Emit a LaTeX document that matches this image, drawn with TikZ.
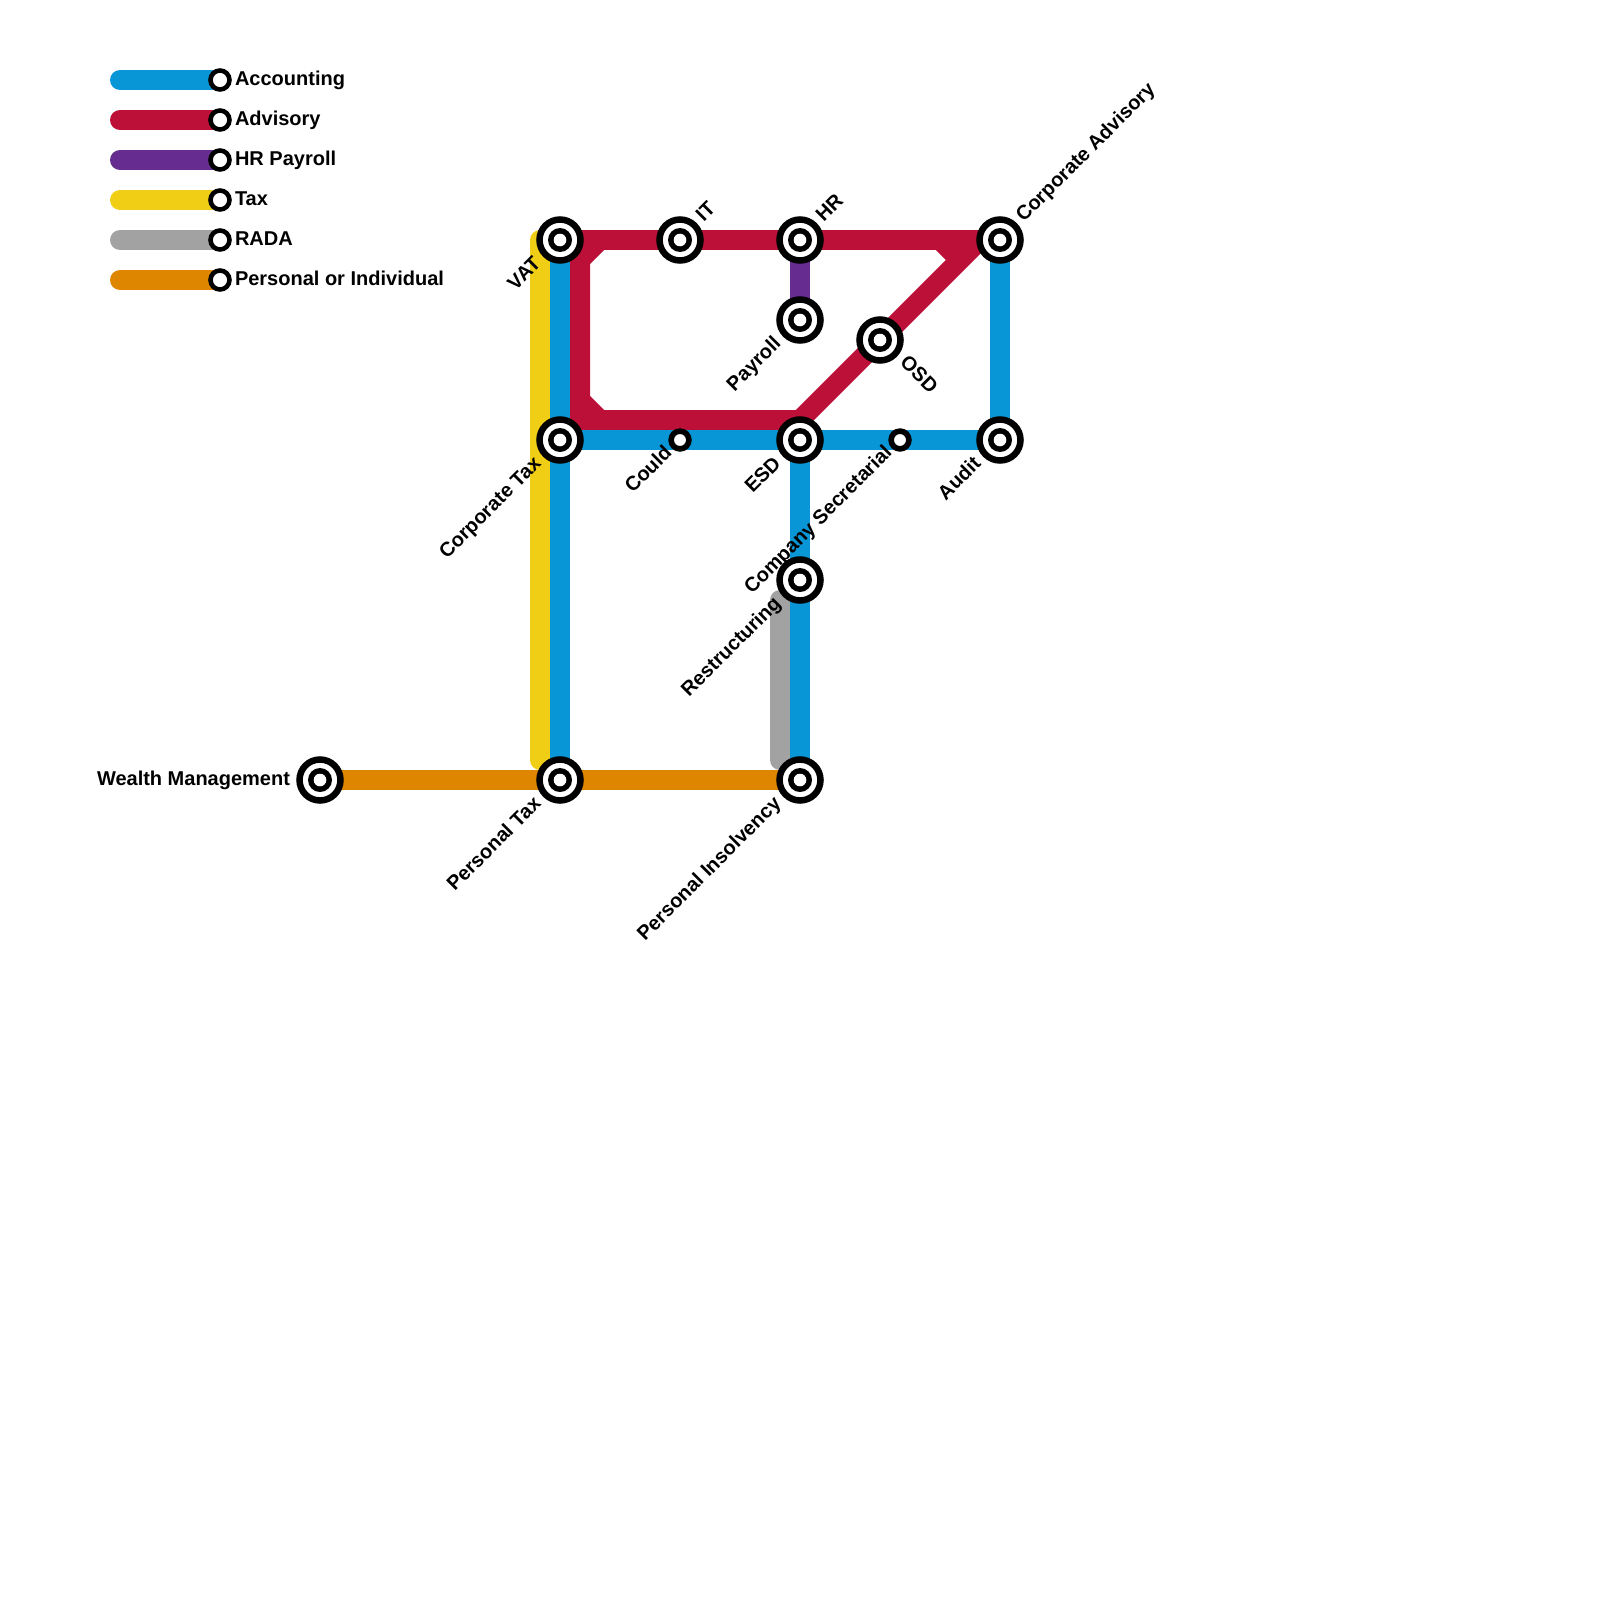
\documentclass[tikz,border=0pt]{standalone}
\usepackage{fontspec}
\setmainfont{Liberation Sans}
\definecolor{lblue}{HTML}{0896D7}
\definecolor{lred}{HTML}{BD1038}
\definecolor{lpurple}{HTML}{662C90}
\definecolor{lyellow}{HTML}{F0CE15}
\definecolor{lgray}{HTML}{A2A2A2}
\definecolor{lorange}{HTML}{DF8600}
\tikzset{
  track/.style={line width=20pt,line join=round},
  legtrack/.style={line width=20pt,line cap=round},
  bigst/.style={circle,draw=black,fill=white,line width=6.5pt,minimum size=41pt,inner sep=0pt,outer sep=0pt,
    path picture={\fill[black] (path picture bounding box.center) circle (12pt);\fill[white] (path picture bounding box.center) circle (6.3pt);}},
  smallst/.style={circle,draw=black,fill=white,line width=5.6pt,minimum size=17.8pt,inner sep=0pt,outer sep=0pt},
  legst/.style={circle,draw=black,fill=white,line width=4.6pt,minimum size=19pt,inner sep=0pt,outer sep=0pt},
  lab/.style={inner sep=0pt,outer sep=0pt,font=\fontsize{20pt}{22pt}\selectfont\bfseries,text=black},
  labsw/.style={lab,rotate=45,anchor=mid east},
  labne/.style={lab,rotate=45,anchor=mid west},
  labse/.style={lab,rotate=-45,anchor=mid west},
}
\begin{document}
\begin{tikzpicture}[x=1pt,y=-1pt]
\useasboundingbox (0,0) rectangle (1600,1600);
% station positions
\coordinate (pVat) at (560,240);
\coordinate (pIt) at (680,240);
\coordinate (pHr) at (800,240);
\coordinate (pCa) at (1000,240);
\coordinate (pPay) at (800,320);
\coordinate (pOsd) at (880,340);
\coordinate (pCt) at (560,440);
\coordinate (pCould) at (680,440);
\coordinate (pEsd) at (800,440);
\coordinate (pCs) at (900,440);
\coordinate (pAud) at (1000,440);
\coordinate (pRes) at (800,580);
\coordinate (pPt) at (560,780);
\coordinate (pPi) at (800,780);
\coordinate (pWm) at (320,780);
% bends
\coordinate (yA) at (540,240);
\coordinate (yB) at (540,760);
\coordinate (yC) at (560,760);
\coordinate (gA) at (800,600);
\coordinate (gB) at (780,600);
\coordinate (gC) at (780,760);
\coordinate (gD) at (800,760);
\coordinate (rA) at (600,240);
\coordinate (rB) at (580,260);
\coordinate (rC) at (580,400);
\coordinate (rD) at (600,420);
\coordinate (rE) at (800,420);
\coordinate (rF) at (980,240);
\coordinate (rG) at (940,240);
\coordinate (rH) at (960,260);
\coordinate (rI) at (580,240);
\coordinate (rJ) at (580,420);
% lines
\draw[track,lyellow] (pVat) -- (yA) -- (yB) -- (yC);
\draw[track,lgray] (gA) -- (gB) -- (gC) -- (gD);
\draw[track,lred] (pVat) -- (pCa);
\draw[track,lred] (rG) -- (rH);
\draw[track,lred] (rI) -- (rJ) -- (rE);
\draw[track,lred] (rA) -- (rB) -- (rC) -- (rD) -- (rE) -- (rF);
\draw[track,lblue] (pVat) -- (pPt);
\draw[track,lblue] (pCt) -- (pAud) -- (pCa);
\draw[track,lblue] (pEsd) -- (pPi);
\draw[track,lpurple] (pHr) -- (pPay);
\draw[track,lorange] (pWm) -- (pPi);
% legend
\foreach \n/\c/\y/\t in {a/lblue/80/Accounting,b/lred/120/Advisory,c/lpurple/160/HR Payroll,d/lyellow/200/Tax,e/lgray/240/RADA,f/lorange/280/Personal or Individual}{
  \coordinate (ls\n) at (120,\y);
  \coordinate (lp\n) at (220,\y);
  \draw[legtrack,\c] (ls\n) -- (lp\n);
  \node[legst] (le\n) at (lp\n) {};
  \node[lab,anchor=mid west] (lt\n) at (235,\y+3) {\t};
}
% stations
\foreach \p/\s in {pVat/sVat,pIt/sIt,pHr/sHr,pCa/sCa,pPay/sPay,pOsd/sOsd,pCt/sCt,pEsd/sEsd,pAud/sAud,pRes/sRes,pPt/sPt,pPi/sPi,pWm/sWm}{
  \node[bigst] (\s) at (\p) {};
}
\node[smallst] (sCould) at (pCould) {};
\node[smallst] (sCs) at (pCs) {};
% labels
\node[labsw] (tVat) at ([shift={(-20,23)}]pVat) {VAT};
\node[labne] (tIt) at ([shift={(22,-19)}]pIt) {IT};
\node[labne] (tHr) at ([shift={(22,-19)}]pHr) {HR};
\node[labne] (tCa) at ([shift={(22,-19)}]pCa) {Corporate Advisory};
\node[labsw] (tPay) at ([shift={(-20,23)}]pPay) {Payroll};
\node[labse] (tOsd) at ([shift={(21,22)}]pOsd) {OSD};
\node[labsw] (tCt) at ([shift={(-20,23)}]pCt) {Corporate Tax};
\node[labsw] (tCould) at ([shift={(-9,12)}]pCould) {Could};
\node[labsw] (tEsd) at ([shift={(-20,23)}]pEsd) {ESD};
\node[labsw] (tCs) at ([shift={(-9,12)}]pCs) {Company Secretarial};
\node[labsw] (tAud) at ([shift={(-20,23)}]pAud) {Audit};
\node[labsw] (tRes) at ([shift={(-20,23)}]pRes) {Restructuring};
\node[labsw] (tPt) at ([shift={(-20,23)}]pPt) {Personal Tax};
\node[labsw] (tPi) at ([shift={(-20,23)}]pPi) {Personal Insolvency};
\node[lab,anchor=mid east] (tWm) at ([shift={(-30,3)}]pWm) {Wealth Management};
\end{tikzpicture}
\end{document}
